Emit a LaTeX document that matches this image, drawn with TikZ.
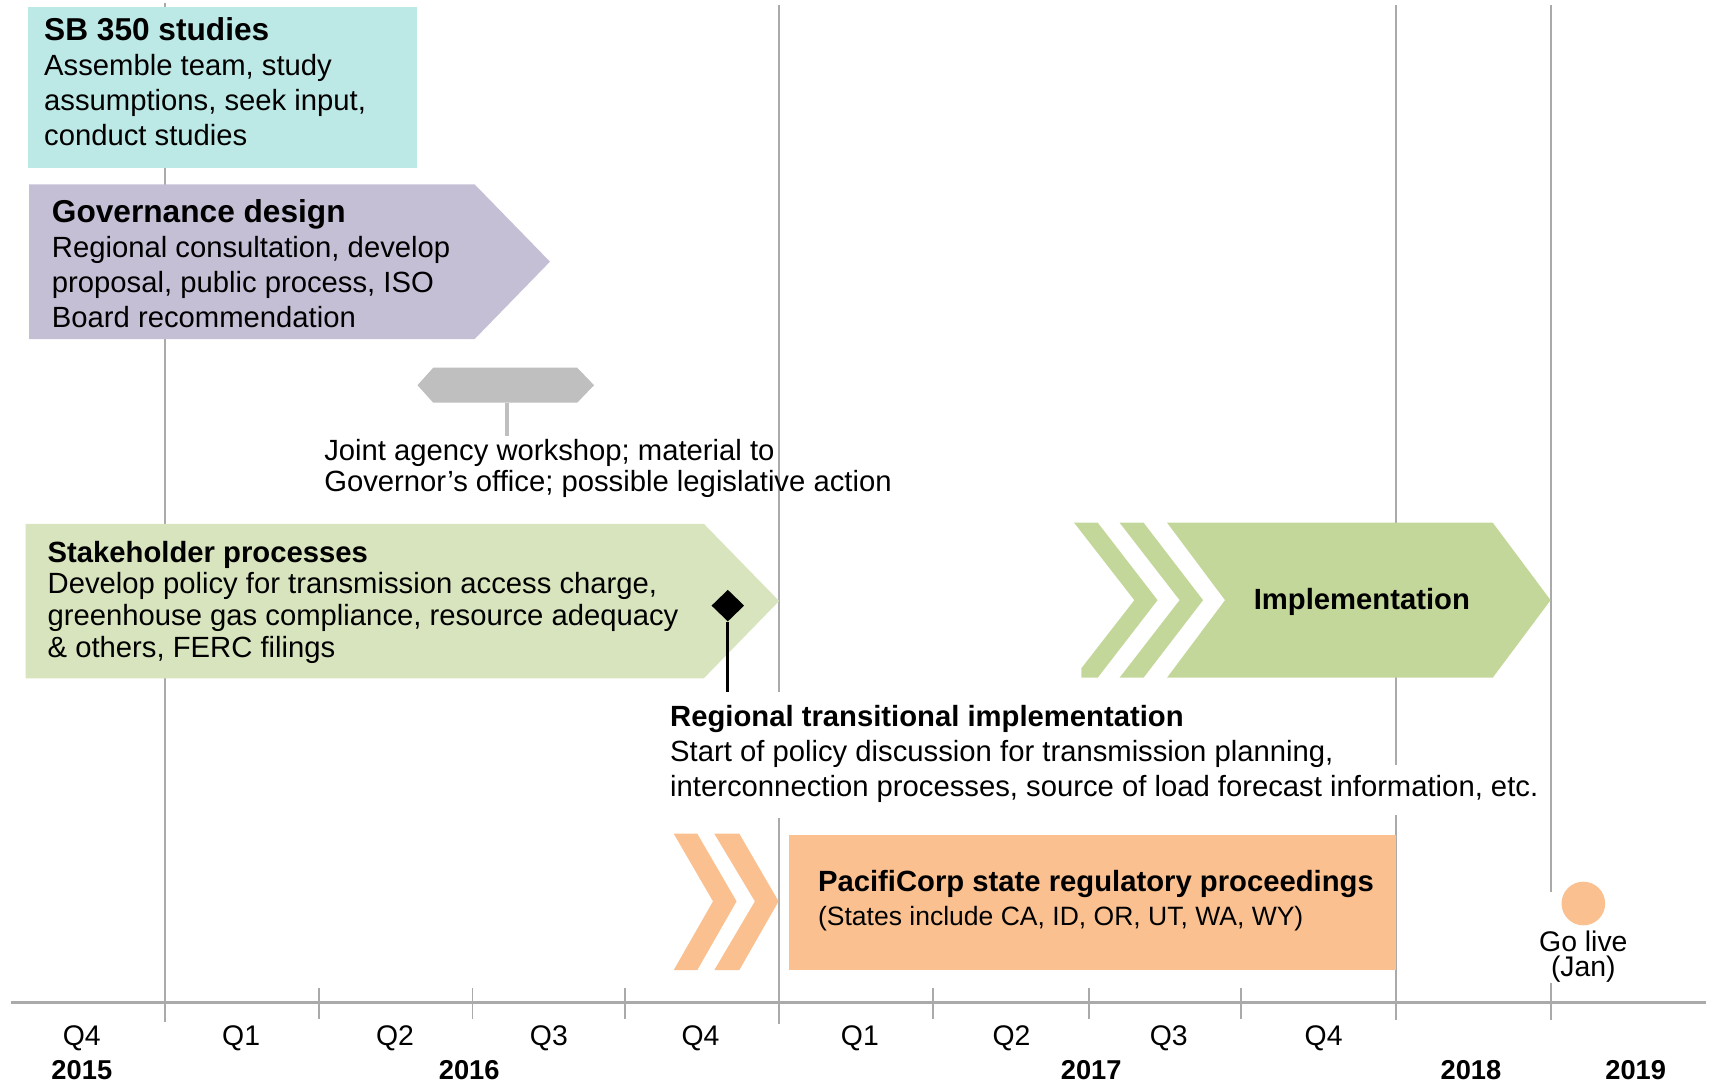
\documentclass[tikz,border=0pt]{standalone}
\usepackage{fontspec}
\setmainfont{Liberation Sans}
\usetikzlibrary{shapes.geometric}
\definecolor{sbteal}{RGB}{188,232,229}
\definecolor{govlav}{RGB}{197,191,214}
\definecolor{stkgreen}{RGB}{216,228,189}
\definecolor{impgreen}{RGB}{196,215,155}
\definecolor{pcorange}{RGB}{250,192,144}
\definecolor{hexgray}{RGB}{191,191,191}
\definecolor{gridgray}{RGB}{170,170,170}
\newcommand\firstln{\rule{0pt}{24pt}}
\begin{document}
\begin{tikzpicture}[x=1pt,y=-1pt,
  gridln/.style={draw=gridgray,line width=2pt},
  tickln/.style={draw=gridgray,line width=1.6pt},
  axisln/.style={draw=gridgray,line width=2.6pt},
  body/.style={anchor=north west,inner sep=0pt,align=left,font=\fontsize{26.8}{32}\selectfont},
  qlab/.style={anchor=base,inner sep=0pt,font=\fontsize{26}{30}\selectfont},
  ylab/.style={anchor=base,inner sep=0pt,font=\fontsize{25}{30}\selectfont\bfseries},
]
\useasboundingbox (0,0) rectangle (1568,992);

% grid lines
\draw[gridln] (151,3) -- (151,937);
\draw[gridln] (714,5) -- (714,634);
\draw[gridln] (714,750) -- (714,938);
\draw[gridln] (1279,5) -- (1279,701);
\draw[gridln] (1279,747) -- (1279,935);
\draw[gridln] (1421,5) -- (1421,817);
\draw[gridln] (1421,901) -- (1421,935);
\foreach \tx in {292,433,573,855,998,1137}{
  \draw[tickln] (\tx,905) -- (\tx,934);
}
\draw[axisln] (10,919) -- (1563,919);

% SB 350 studies
\fill[sbteal] (25.6,6.1) rectangle (382.4,153.7);
\node[body] (sbtxt) at (40.3,13.3) {\firstln{\fontsize{29}{32}\selectfont\bfseries SB 350 studies}\\Assemble team, study\\assumptions, seek input,\\conduct studies};

% Governance design
\fill[govlav] (26.6,169) -- (435,169) -- (504,239.8) -- (435,310.7) -- (26.6,310.7) -- cycle;
\node[body] (govtxt) at (47.4,180) {\firstln{\fontsize{29}{32}\selectfont\bfseries Governance design}\\Regional consultation, develop\\proposal, public process, ISO\\Board recommendation};

% Joint agency workshop milestone
\fill[hexgray] (382.6,353) -- (397,337) -- (529,337) -- (544.4,353) -- (529,369) -- (397,369) -- cycle;
\coordinate (hexb) at (464.6,369);
\coordinate (hexs) at (464.6,400);
\draw[draw=hexgray,line width=3pt] (hexb) -- (hexs);
\node[body,font=\fontsize{26.8}{29}\selectfont] (jointtxt) at (297,397.6) {\firstln Joint agency workshop; material to\\Governor’s office; possible legislative action};

% Stakeholder processes
\fill[stkgreen] (23.4,480) -- (645,480) -- (714,550.8) -- (645,621.6) -- (23.4,621.6) -- cycle;
\node[body,font=\fontsize{26.8}{29}\selectfont] (stktxt) at (43.5,491) {\firstln\textbf{Stakeholder processes}\\Develop policy for transmission access charge,\\greenhouse gas compliance, resource adequacy\\\& others, FERC filings};

% milestone diamond
\node[diamond,fill=black,inner sep=0pt,minimum width=30pt,minimum height=29pt] (dia) at (667,555) {};
\coordinate (diastem) at (667,634);
\draw[line width=3pt] (dia.south) -- (diastem);

% Implementation chevrons
\fill[impgreen] (984.3,479) -- (1006,479) -- (1060.8,550) -- (1006,621) -- (991,621) -- (991,612.4) -- (1039.5,550) -- cycle;
\fill[impgreen] (1026,479) -- (1048,479) -- (1102.5,550) -- (1048,621) -- (1026,621) -- (1081,550) -- cycle;
\fill[impgreen] (1069.5,479) -- (1368,479) -- (1421,550) -- (1368,621) -- (1069.5,621) -- (1122.6,550) -- cycle;
\node[anchor=base,inner sep=0pt,font=\fontsize{26.8}{32}\selectfont\bfseries] (impl) at (1248,559) {Implementation};

% Regional transitional implementation
\node[body] (regtxt) at (614,642) {\firstln\textbf{Regional transitional implementation}\\Start of policy discussion for transmission planning,\\interconnection processes, source of load forecast information, etc.};

% PacifiCorp
\fill[pcorange] (617.4,764) -- (639,764) -- (675,826) -- (639,889) -- (617.4,889) -- (653.4,826) -- cycle;
\fill[pcorange] (654.6,764) -- (677.5,764) -- (713.5,826) -- (677.5,889) -- (654.6,889) -- (691.8,826) -- cycle;
\fill[pcorange] (722.8,765) rectangle (1279.6,889);
\node[body,font=\fontsize{26.8}{30.7}\selectfont] (pctxt) at (749.5,793) {\firstln\textbf{PacifiCorp state regulatory proceedings}\\{\fontsize{24.3}{30.7}\selectfont (States include CA, ID, OR, UT, WA, WY)}};

% Go live
\node[circle,fill=pcorange,inner sep=0pt,minimum size=40pt] (golivedot) at (1451,828) {};
\node[anchor=north,inner sep=0pt,align=center,font=\fontsize{26}{23}\selectfont] (golive) at (1451,848) {\firstln Go live\\(Jan)};

% quarter labels
\node[qlab] (q4a) at (75,957.7) {Q4};
\node[qlab] (q1a) at (221,957.7) {Q1};
\node[qlab] (q2a) at (362,957.7) {Q2};
\node[qlab] (q3a) at (503,957.7) {Q3};
\node[qlab] (q4b) at (642,957.7) {Q4};
\node[qlab] (q1b) at (788,957.7) {Q1};
\node[qlab] (q2b) at (927,957.7) {Q2};
\node[qlab] (q3b) at (1071,957.7) {Q3};
\node[qlab] (q4c) at (1213,957.7) {Q4};

% year labels
\node[ylab] (y15) at (75,989.5) {2015};
\node[ylab] (y16) at (430,989.5) {2016};
\node[ylab] (y17) at (1000,989.5) {2017};
\node[ylab] (y18) at (1348,989.5) {2018};
\node[ylab] (y19) at (1499,989.5) {2019};
\end{tikzpicture}
\end{document}
